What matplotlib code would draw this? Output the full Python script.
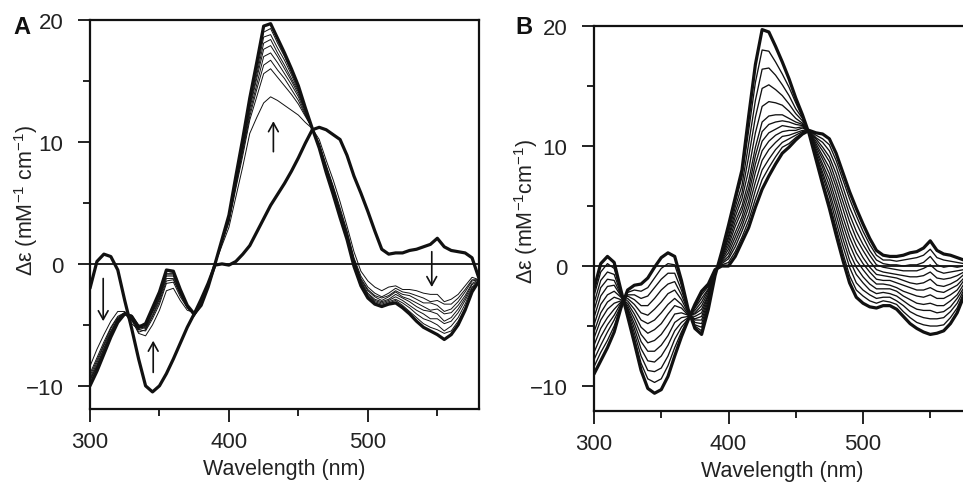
import numpy as np
import matplotlib
matplotlib.use("Agg")
import matplotlib.pyplot as plt
from matplotlib.ticker import MultipleLocator

plt.rcParams["font.family"] = ["Liberation Sans", "DejaVu Sans"]
plt.rcParams["mathtext.fontset"] = "custom"
plt.rcParams["mathtext.rm"] = "Liberation Sans"
plt.rcParams["mathtext.it"] = "Liberation Sans:italic"
plt.rcParams["mathtext.bf"] = "Liberation Sans:bold"

# wavelength grid (nm), one row of each table per wavelength
wavelength = np.arange(300, 581, 5)

# panel A, measured spectra: first column = start (thick), last column = end (thick)
spectra_a = [
    [-2.0, -8.4, -9.0, -9.2, -9.4, -9.5, -9.6, -9.8, -9.9, -10.0],
    [0.2, -7.0, -7.7, -7.9, -8.1, -8.3, -8.4, -8.5, -8.7, -8.8],
    [0.8, -5.8, -6.4, -6.6, -6.7, -6.9, -7.0, -7.2, -7.3, -7.4],
    [0.6, -4.7, -5.2, -5.3, -5.5, -5.6, -5.7, -5.8, -5.9, -6.0],
    [-0.5, -3.9, -4.3, -4.4, -4.5, -4.5, -4.6, -4.7, -4.7, -4.8],
    [-3.0, -3.9, -4.0, -4.0, -4.0, -4.0, -4.1, -4.1, -4.1, -4.1],
    [-5.3, -4.6, -4.9, -4.4, -4.7, -4.5, -4.2, -4.6, -4.4, -4.3],
    [-7.8, -5.7, -5.4, -5.6, -5.1, -5.4, -5.0, -5.3, -5.2, -5.2],
    [-10.0, -5.9, -5.5, -5.4, -5.3, -5.2, -5.1, -5.1, -5.0, -4.9],
    [-10.5, -5.0, -4.5, -4.3, -4.2, -4.0, -3.9, -3.8, -3.7, -3.6],
    [-10.0, -3.8, -3.3, -3.1, -2.9, -2.8, -2.7, -2.5, -2.4, -2.3],
    [-9.0, -2.2, -1.6, -1.4, -1.2, -1.0, -0.9, -0.8, -0.6, -0.5],
    [-7.8, -2.0, -1.5, -1.3, -1.2, -1.0, -0.9, -0.8, -0.7, -0.6],
    [-6.5, -3.0, -2.7, -2.5, -2.5, -2.4, -2.3, -2.2, -2.2, -2.1],
    [-5.2, -3.8, -3.6, -3.6, -3.5, -3.5, -3.5, -3.5, -3.4, -3.4],
    [-4.1, -4.0, -4.2, -4.1, -4.3, -4.1, -4.0, -4.2, -4.1, -4.1],
    [-2.9, -3.3, -3.3, -3.4, -3.4, -3.4, -3.4, -3.4, -3.4, -3.4],
    [-1.6, -1.8, -1.9, -1.9, -1.9, -1.9, -1.9, -1.9, -1.9, -1.9],
    [-0.1, 0.0, 0.0, 0.0, 0.0, 0.0, 0.0, 0.0, 0.0, 0.0],
    [0.0, 1.5, 1.7, 1.8, 1.8, 1.9, 1.9, 1.9, 2.0, 2.0],
    [-0.1, 3.0, 3.4, 3.5, 3.6, 3.7, 3.8, 3.9, 3.9, 4.0],
    [0.2, 5.5, 6.2, 6.4, 6.5, 6.7, 6.8, 7.0, 7.1, 7.2],
    [0.8, 8.0, 8.9, 9.2, 9.4, 9.6, 9.8, 10.0, 10.1, 10.3],
    [1.5, 10.7, 11.8, 12.1, 12.4, 12.7, 12.9, 13.2, 13.4, 13.6],
    [2.6, 12.0, 13.7, 14.3, 14.7, 15.2, 15.5, 15.8, 16.2, 16.5],
    [3.7, 13.2, 15.6, 16.3, 17.0, 17.6, 18.1, 18.6, 19.0, 19.5],
    [4.8, 13.7, 16.0, 16.7, 17.3, 17.9, 18.4, 18.8, 19.3, 19.7],
    [5.7, 13.4, 15.3, 15.9, 16.5, 17.0, 17.3, 17.7, 18.1, 18.5],
    [6.6, 13.0, 14.6, 15.2, 15.6, 16.0, 16.3, 16.7, 17.0, 17.3],
    [7.6, 12.6, 13.9, 14.3, 14.7, 15.0, 15.2, 15.5, 15.7, 16.0],
    [8.7, 12.2, 13.1, 13.4, 13.7, 13.9, 14.1, 14.2, 14.4, 14.6],
    [9.9, 11.6, 12.1, 12.2, 12.3, 12.5, 12.5, 12.6, 12.7, 12.8],
    [11.0, 11.1, 11.1, 11.1, 11.1, 11.1, 11.1, 11.1, 11.1, 11.1],
    [11.2, 10.2, 9.9, 9.8, 9.8, 9.7, 9.7, 9.6, 9.6, 9.5],
    [11.0, 8.5, 8.1, 8.0, 7.9, 7.8, 7.7, 7.6, 7.6, 7.5],
    [10.6, 6.9, 6.4, 6.3, 6.2, 6.1, 6.0, 5.9, 5.8, 5.7],
    [10.2, 5.1, 4.6, 4.4, 4.3, 4.2, 4.1, 4.0, 3.9, 3.8],
    [8.9, 3.1, 2.7, 2.6, 2.4, 2.3, 2.2, 2.2, 2.1, 2.0],
    [7.2, 1.0, 0.5, 0.4, 0.3, 0.2, 0.1, 0.0, -0.1, -0.2],
    [5.8, -0.6, -1.0, -1.2, -1.3, -1.4, -1.5, -1.6, -1.7, -1.8],
    [4.3, -1.4, -1.9, -2.1, -2.2, -2.4, -2.5, -2.6, -2.7, -2.8],
    [2.7, -1.9, -2.4, -2.6, -2.7, -2.9, -3.0, -3.1, -3.2, -3.3],
    [1.2, -2.2, -2.7, -2.8, -3.0, -3.1, -3.2, -3.3, -3.4, -3.5],
    [0.8, -1.9, -2.4, -2.6, -2.7, -2.9, -3.0, -3.1, -3.2, -3.3],
    [0.9, -1.8, -2.0, -2.2, -2.3, -2.5, -2.7, -2.9, -3.0, -3.2],
    [0.9, -2.1, -2.3, -2.5, -2.7, -2.8, -3.0, -3.2, -3.4, -3.6],
    [1.1, -2.1, -2.4, -2.6, -2.9, -3.1, -3.4, -3.6, -3.9, -4.1],
    [1.2, -2.2, -2.6, -2.9, -3.2, -3.5, -3.8, -4.1, -4.4, -4.7],
    [1.4, -2.4, -2.8, -3.2, -3.5, -3.8, -4.1, -4.5, -4.9, -5.2],
    [1.6, -2.5, -3.1, -3.2, -3.8, -3.9, -4.5, -4.7, -5.2, -5.5],
    [2.1, -2.5, -3.0, -3.4, -3.7, -4.1, -4.5, -5.0, -5.4, -5.8],
    [1.4, -3.1, -3.3, -3.9, -4.1, -4.7, -4.9, -5.5, -5.7, -6.2],
    [1.1, -2.9, -3.3, -3.7, -4.0, -4.4, -4.7, -5.1, -5.5, -5.8],
    [1.0, -2.5, -2.8, -3.1, -3.4, -3.7, -4.0, -4.4, -4.7, -5.0],
    [0.9, -1.8, -2.1, -2.3, -2.6, -2.8, -3.0, -3.3, -3.6, -3.8],
    [0.5, -1.1, -1.3, -1.4, -1.6, -1.7, -1.9, -2.0, -2.2, -2.3],
    [-1.2, -1.3, -1.3, -1.3, -1.3, -1.4, -1.4, -1.4, -1.4, -1.4],
]

# panel B, simulated spectra: first column = start (thick), last column = end (thick)
spectra_b = [
    [-1.9, -2.5, -3.1, -3.7, -4.3, -4.9, -5.5, -6.0, -6.6, -7.2, -7.8, -8.4, -9.0],
    [0.2, -0.5, -1.2, -1.8, -2.5, -3.2, -3.9, -4.5, -5.2, -5.9, -6.6, -7.2, -7.9],
    [0.8, 0.2, -0.5, -1.1, -1.7, -2.4, -3.0, -3.6, -4.3, -4.9, -5.5, -6.2, -6.8],
    [0.3, -0.2, -0.7, -1.2, -1.6, -2.1, -2.6, -3.1, -3.6, -4.1, -4.5, -5.0, -5.5],
    [-2.0, -2.1, -2.3, -2.4, -2.5, -2.6, -2.8, -2.9, -3.0, -3.1, -3.3, -3.4, -3.5],
    [-4.2, -4.0, -3.8, -3.6, -3.5, -3.3, -3.1, -2.9, -2.7, -2.5, -2.4, -2.2, -2.0],
    [-6.4, -6.0, -5.6, -5.2, -4.8, -4.4, -4.0, -3.6, -3.2, -2.8, -2.4, -2.0, -1.6],
    [-8.7, -8.1, -7.5, -6.9, -6.3, -5.7, -5.1, -4.5, -3.9, -3.3, -2.7, -2.1, -1.5],
    [-10.2, -9.4, -8.7, -7.9, -7.1, -6.4, -5.6, -4.8, -4.1, -3.3, -2.5, -1.8, -1.0],
    [-10.6, -9.7, -8.8, -8.0, -7.1, -6.2, -5.3, -4.5, -3.6, -2.7, -1.8, -1.0, -0.1],
    [-10.3, -9.4, -8.5, -7.5, -6.6, -5.7, -4.8, -3.9, -3.0, -2.0, -1.1, -0.2, 0.7],
    [-9.2, -8.3, -7.5, -6.6, -5.8, -4.9, -4.0, -3.2, -2.3, -1.5, -0.6, 0.2, 1.1],
    [-7.5, -6.8, -6.1, -5.4, -4.7, -4.0, -3.3, -2.7, -2.0, -1.3, -0.6, 0.1, 0.8],
    [-5.9, -5.5, -5.1, -4.7, -4.3, -3.9, -3.5, -3.2, -2.8, -2.4, -2.0, -1.6, -1.2],
    [-4.5, -4.4, -4.4, -4.3, -4.2, -4.1, -4.1, -4.0, -3.9, -3.8, -3.7, -3.7, -3.6],
    [-3.2, -3.4, -3.5, -3.7, -3.9, -4.0, -4.2, -4.4, -4.5, -4.7, -4.9, -5.0, -5.2],
    [-2.1, -2.4, -2.7, -3.0, -3.3, -3.6, -3.9, -4.2, -4.5, -4.8, -5.1, -5.4, -5.7],
    [-1.5, -1.7, -1.9, -2.0, -2.2, -2.4, -2.5, -2.7, -2.9, -3.1, -3.3, -3.4, -3.6],
    [-0.3, -0.3, -0.4, -0.4, -0.5, -0.5, -0.6, -0.6, -0.6, -0.7, -0.7, -0.8, -0.8],
    [0.0, 0.1, 0.2, 0.3, 0.4, 0.5, 0.6, 0.7, 0.8, 0.9, 1.0, 1.1, 1.2],
    [0.0, 0.3, 0.6, 0.8, 1.1, 1.4, 1.7, 2.0, 2.3, 2.5, 2.8, 3.1, 3.4],
    [0.8, 1.2, 1.6, 2.0, 2.4, 2.8, 3.3, 3.7, 4.1, 4.5, 4.9, 5.3, 5.7],
    [2.0, 2.4, 2.9, 3.3, 3.7, 4.1, 4.6, 5.0, 5.6, 6.1, 6.7, 7.4, 8.0],
    [3.2, 3.8, 4.3, 4.9, 5.4, 6.0, 6.5, 7.1, 8.0, 9.1, 10.2, 11.3, 12.5],
    [4.9, 5.6, 6.3, 7.0, 7.8, 8.5, 9.2, 9.9, 11.1, 12.4, 13.8, 15.3, 16.8],
    [6.4, 7.2, 8.0, 8.8, 9.6, 10.4, 11.2, 12.0, 13.3, 14.8, 16.4, 18.0, 19.7],
    [7.5, 8.2, 8.9, 9.7, 10.4, 11.1, 11.8, 12.5, 13.7, 15.1, 16.5, 17.9, 19.5],
    [8.5, 9.1, 9.7, 10.3, 10.9, 11.4, 12.0, 12.6, 13.6, 14.7, 15.9, 17.0, 18.3],
    [9.4, 9.9, 10.3, 10.8, 11.2, 11.7, 12.1, 12.6, 13.4, 14.2, 15.1, 16.0, 17.0],
    [9.9, 10.2, 10.6, 10.9, 11.3, 11.6, 12.0, 12.3, 12.9, 13.5, 14.2, 14.9, 15.6],
    [10.5, 10.7, 10.9, 11.1, 11.3, 11.5, 11.8, 12.0, 12.3, 12.7, 13.1, 13.6, 14.0],
    [11.0, 11.1, 11.2, 11.3, 11.5, 11.6, 11.7, 11.8, 11.9, 12.1, 12.3, 12.4, 12.6],
    [11.3, 11.3, 11.3, 11.2, 11.2, 11.2, 11.2, 11.1, 11.1, 11.1, 11.1, 11.0, 11.0],
    [11.1, 10.9, 10.7, 10.6, 10.4, 10.2, 10.0, 9.8, 9.6, 9.4, 9.3, 9.1, 8.9],
    [11.0, 10.6, 10.3, 9.9, 9.6, 9.2, 8.9, 8.5, 8.2, 7.8, 7.5, 7.1, 6.8],
    [10.6, 10.1, 9.6, 9.1, 8.7, 8.2, 7.7, 7.2, 6.7, 6.2, 5.8, 5.3, 4.8],
    [9.4, 8.8, 8.3, 7.7, 7.1, 6.6, 6.0, 5.4, 4.9, 4.3, 3.7, 3.2, 2.6],
    [7.8, 7.2, 6.6, 6.0, 5.4, 4.8, 4.1, 3.5, 2.9, 2.3, 1.7, 1.1, 0.5],
    [6.2, 5.6, 4.9, 4.3, 3.7, 3.0, 2.4, 1.8, 1.1, 0.5, -0.1, -0.8, -1.4],
    [4.8, 4.2, 3.6, 2.9, 2.3, 1.7, 1.1, 0.5, -0.1, -0.7, -1.4, -2.0, -2.6],
    [3.5, 2.9, 2.4, 1.8, 1.3, 0.7, 0.2, -0.3, -0.9, -1.4, -2.0, -2.5, -3.1],
    [2.3, 1.8, 1.3, 0.9, 0.4, -0.1, -0.5, -1.0, -1.5, -2.0, -2.4, -2.9, -3.4],
    [1.3, 0.9, 0.5, 0.1, -0.3, -0.7, -1.1, -1.5, -1.9, -2.3, -2.7, -3.1, -3.5],
    [0.9, 0.5, 0.2, -0.1, -0.5, -0.8, -1.2, -1.5, -1.9, -2.2, -2.6, -2.9, -3.3],
    [0.8, 0.5, 0.1, -0.2, -0.6, -0.9, -1.2, -1.6, -1.9, -2.3, -2.6, -3.0, -3.3],
    [0.8, 0.4, 0.1, -0.3, -0.7, -1.0, -1.4, -1.8, -2.1, -2.5, -2.9, -3.2, -3.6],
    [0.9, 0.5, 0.0, -0.4, -0.8, -1.2, -1.6, -2.1, -2.5, -2.9, -3.3, -3.8, -4.2],
    [1.1, 0.6, 0.1, -0.4, -0.9, -1.4, -1.8, -2.3, -2.8, -3.3, -3.8, -4.3, -4.8],
    [1.2, 0.7, 0.1, -0.4, -0.9, -1.5, -2.0, -2.5, -3.1, -3.6, -4.1, -4.7, -5.2],
    [1.5, 0.9, 0.3, -0.2, -0.8, -1.4, -2.0, -2.6, -3.2, -3.7, -4.3, -4.9, -5.5],
    [2.1, 1.4, 0.8, 0.1, -0.5, -1.1, -1.8, -2.4, -3.1, -3.7, -4.4, -5.0, -5.7],
    [1.3, 0.7, 0.1, -0.4, -1.0, -1.6, -2.1, -2.7, -3.3, -3.9, -4.4, -5.0, -5.6],
    [1.0, 0.5, -0.1, -0.6, -1.1, -1.7, -2.2, -2.7, -3.3, -3.8, -4.3, -4.9, -5.4],
    [0.9, 0.4, 0.0, -0.5, -1.0, -1.5, -1.9, -2.4, -2.9, -3.4, -3.8, -4.3, -4.8],
    [0.7, 0.3, -0.1, -0.4, -0.8, -1.2, -1.6, -2.0, -2.4, -2.7, -3.1, -3.5, -3.9],
    [0.5, 0.2, 0.0, -0.3, -0.5, -0.7, -1.0, -1.2, -1.5, -1.8, -2.0, -2.2, -2.5],
    [0.3, 0.1, 0.0, -0.2, -0.3, -0.4, -0.6, -0.7, -0.9, -1.0, -1.2, -1.3, -1.5],
]

# arrows in panel A: (wavelength, from, to)
arrows_a = [
    (309.5, -1.2, -4.7),
    (345.5, -8.9, -6.3),
    (432.0, 9.2, 11.7),
    (546.0, 1.0, -1.9),
]

ylabel_a = r"Δε (mM$^{\mathregular{-1}}$ cm$^{\mathregular{-1}}$)"
ylabel_b = r"Δε (mM$^{\mathregular{-1}}$cm$^{\mathregular{-1}}$)"

INK = "#111111"
TXT = "#222222"

fig = plt.figure(figsize=(9.63, 4.85), dpi=100)
W, H = 963.0, 485.0
ax_a = fig.add_axes([90 / W, 1 - 410 / H, 389 / W, 389 / H])
ax_b = fig.add_axes([594 / W, 1 - 412 / H, 376.6 / W, 385 / H])


def style_axis(ax, ylim, ylabel, label_xy):
    ax.set_xlim(300, 580)
    ax.set_ylim(*ylim)
    ax.axhline(0, color=INK, lw=1.3, zorder=1)
    ax.xaxis.set_major_locator(MultipleLocator(100))
    ax.xaxis.set_minor_locator(MultipleLocator(50))
    ax.yaxis.set_major_locator(MultipleLocator(10))
    ax.yaxis.set_minor_locator(MultipleLocator(5))
    ax.tick_params(which="major", direction="out", length=9, width=1.3,
                   labelsize=16, color=INK, labelcolor=TXT)
    ax.tick_params(which="minor", direction="out", length=5, width=1.3, color=INK)
    ax.tick_params(axis="x", which="major", pad=6.5)
    ax.tick_params(axis="y", which="major", pad=10)
    for s in ax.spines.values():
        s.set_linewidth(1.6)
        s.set_color(INK)
    ax.set_xlabel("Wavelength (nm)", fontsize=15.5, color=TXT, labelpad=5)
    ax.set_ylabel(ylabel, fontsize=15.5, color=TXT)
    ax.yaxis.set_label_coords(*label_xy)


def draw_spectra(ax, table, thin_lw):
    spectra = np.array(table).T
    for row in spectra[1:-1]:
        ax.plot(wavelength, row, color=INK, lw=thin_lw, zorder=2)
    for row in (spectra[0], spectra[-1]):
        ax.plot(wavelength, row, color=INK, lw=2.3, zorder=3,
                solid_joinstyle="round", solid_capstyle="round")


draw_spectra(ax_a, spectra_a, 0.7)
draw_spectra(ax_b, spectra_b, 0.95)

style_axis(ax_a, (-11.9, 20), ylabel_a, (-0.128, 0.54))
style_axis(ax_b, (-12.08, 20), ylabel_b, (-0.143, 0.52))
ax_b.spines["right"].set_visible(False)

for wl, y0, y1 in arrows_a:
    ax_a.annotate("", xy=(wl, y1), xytext=(wl, y0),
                  arrowprops=dict(arrowstyle="->,head_length=0.45,head_width=0.25",
                                  lw=1.2, color=INK, shrinkA=0, shrinkB=0,
                                  mutation_scale=14))

fig.text(22 / W, 1 - 27 / H, "A", fontsize=17, fontweight="bold",
         ha="center", va="center", color=INK)
fig.text(524 / W, 1 - 28 / H, "B", fontsize=17, fontweight="bold",
         ha="center", va="center", color=INK)

fig.savefig("out.png", dpi=100)
